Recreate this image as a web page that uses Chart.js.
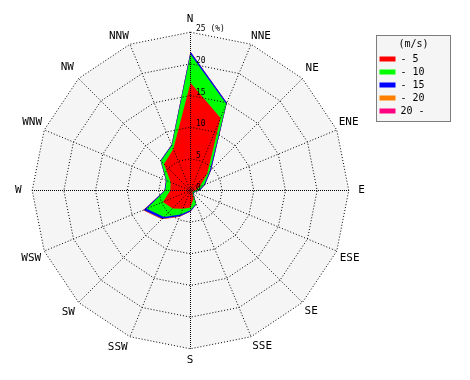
<!DOCTYPE html>
<html>
<head>
<meta charset="utf-8">
<script src="https://cdn.jsdelivr.net/npm/chart.js@4/dist/chart.umd.min.js"></script>
<style>
html,body{margin:0;padding:0;background:#ffffff;}
#c{display:block;}
</style>
</head>
<body>
<canvas id="c" width="470" height="380"></canvas>
<script>
// ---- data (cumulative frequency %, per direction) ----
const directions = ['N','NNE','NE','ENE','E','ESE','SE','SSE','S','SSW','SW','WSW','W','WNW','NW','NNW'];
const speedBands = ['- 5','- 10','- 15','- 20','20 -'];
const upTo5     = [17.0,12.4,3.7,1.6,0.8,0.4,0.4,1.3,2.7,3.1,4.0,4.7,3.2,3.4,5.9,7.1];
const upTo10    = [21.5,14.8,4.3,2.3,1.3,0.6,0.6,2.3,3.1,4.1,5.9,7.5,4.0,4.1,6.6,7.7];
const upTo15    = [21.9,15.0,4.6,2.5,1.5,0.7,0.7,2.4,3.3,4.4,6.3,8.0,4.1,4.2,6.7,7.8];
const upTo20    = [21.9,15.0,4.6,2.5,1.5,0.7,0.7,2.4,3.3,4.5,6.4,8.1,4.1,4.2,6.7,7.8];
const allSpeeds = [21.9,15.0,4.6,2.5,1.5,0.7,0.7,2.4,3.3,4.5,6.4,8.1,4.1,4.2,6.7,7.8];
const tickValues = [0,5,10,15,20,25];
const tickLabels = ['0','5','10','15','20','25 (%)'];

// ---- styles ----
const bandColors = ['#ff0000','#00ff00','#0000ff','#ff8000','#ff0080'];
const seriesList = [upTo5, upTo10, upTo15, upTo20, allSpeeds];
const labelPad = [5.5,1.3,5.1,2.7,10,3.7,3.7,4.1,5.5,4.4,4.4,2.8,10,1.8,5.8,1.6];
const MONO = '"DejaVu Sans Mono", "Liberation Mono", monospace';

const decorPlugin = {
  id: 'decor',
  beforeDraw(chart) {
    const ctx = chart.ctx;
    const r = chart.scales.r;
    ctx.save();
    // plot background polygon
    ctx.beginPath();
    for (let i = 0; i < directions.length; i++) {
      const p = r.getPointPositionForValue(i, r.max);
      if (i === 0) ctx.moveTo(p.x, p.y); else ctx.lineTo(p.x, p.y);
    }
    ctx.closePath();
    ctx.fillStyle = '#f5f5f5';
    ctx.fill();
    // legend frame
    const lg = chart.legend;
    if (lg && lg.legendHitBoxes && lg.legendHitBoxes.length) {
      const hb = lg.legendHitBoxes;
      const last = hb[hb.length - 1];
      const x0 = Math.round(lg.left) - 0.5;
      const x1 = Math.round(lg.left + lg.width) - 0.5;
      const y0 = Math.round(lg.top + 22) + 0.5;
      const y1 = Math.round(last.top + last.height + 5) + 0.5;
      ctx.fillStyle = '#f5f5f5';
      ctx.fillRect(x0, y0, x1 - x0, y1 - y0);
      ctx.strokeStyle = '#000';
      ctx.lineWidth = 1;
      ctx.setLineDash([1, 1]);
      ctx.strokeRect(x0, y0, x1 - x0, y1 - y0);
    }
    ctx.restore();
  },
  afterDraw(chart) {
    const ctx = chart.ctx;
    const r = chart.scales.r;
    ctx.save();
    ctx.font = '8px ' + MONO;
    ctx.fillStyle = '#000';
    ctx.textAlign = 'left';
    ctx.textBaseline = 'alphabetic';
    tickValues.forEach((v, i) => {
      const d = r.getDistanceFromCenterForValue(v);
      ctx.fillText(tickLabels[i], Math.round(r.xCenter + 5), Math.round(r.yCenter - d - 1));
    });
    ctx.restore();
  }
};

new Chart(document.getElementById('c'), {
  type: 'radar',
  data: {
    labels: directions,
    datasets: speedBands.map((lab, i) => ({
      label: lab,
      data: seriesList[i],
      backgroundColor: bandColors[i],
      borderColor: bandColors[i],
      borderWidth: 0,
      fill: 'origin',
      pointRadius: 0,
      pointHoverRadius: 0,
      pointHitRadius: 0,
      tension: 0
    }))
  },
  options: {
    responsive: false,
    animation: false,
    devicePixelRatio: 1,
    events: [],
    layout: { padding: { left: 4, top: 13, bottom: 12, right: 19.5 } },
    plugins: {
      tooltip: { enabled: false },
      legend: {
        position: 'right',
        align: 'start',
        maxWidth: 74,
        labels: {
          boxWidth: 16,
          boxHeight: 5,
          padding: 3,
          color: '#000',
          font: { family: MONO, size: 10, lineHeight: 1.2 },
          generateLabels(chart) {
            const items = Chart.defaults.plugins.legend.labels.generateLabels(chart);
            items.forEach(it => { it.text = it.text.padEnd(8, ' '); it.lineWidth = 0; });
            return items;
          }
        },
        title: {
          display: true,
          text: '(m/s)',
          color: '#000',
          font: { family: MONO, size: 10, lineHeight: 1.2 },
          padding: { top: 26, bottom: 0 }
        }
      }
    },
    scales: {
      r: {
        min: 0,
        max: 25,
        startAngle: 0,
        afterFit(scale) { scale.xCenter += 0.5; scale.yCenter += 0.5; },
        ticks: { display: false, stepSize: 5 },
        grid: { color: '#000', lineWidth: 1, z: 1 },
        border: { dash: [1, 2] },
        angleLines: {
          color: '#000',
          lineWidth: 1,
          borderDash: (ctx) => (ctx.index % 4 === 0 ? [1, 1] : [1, 2]),
          borderDashOffset: (ctx) => (ctx.index % 4 === 0 ? 0.5 : 0)
        },
        pointLabels: {
          color: '#000',
          font: { family: MONO, size: 11 },
          padding: (ctx) => labelPad[ctx.index]
        }
      }
    }
  },
  plugins: [decorPlugin]
});
</script>
</body>
</html>
